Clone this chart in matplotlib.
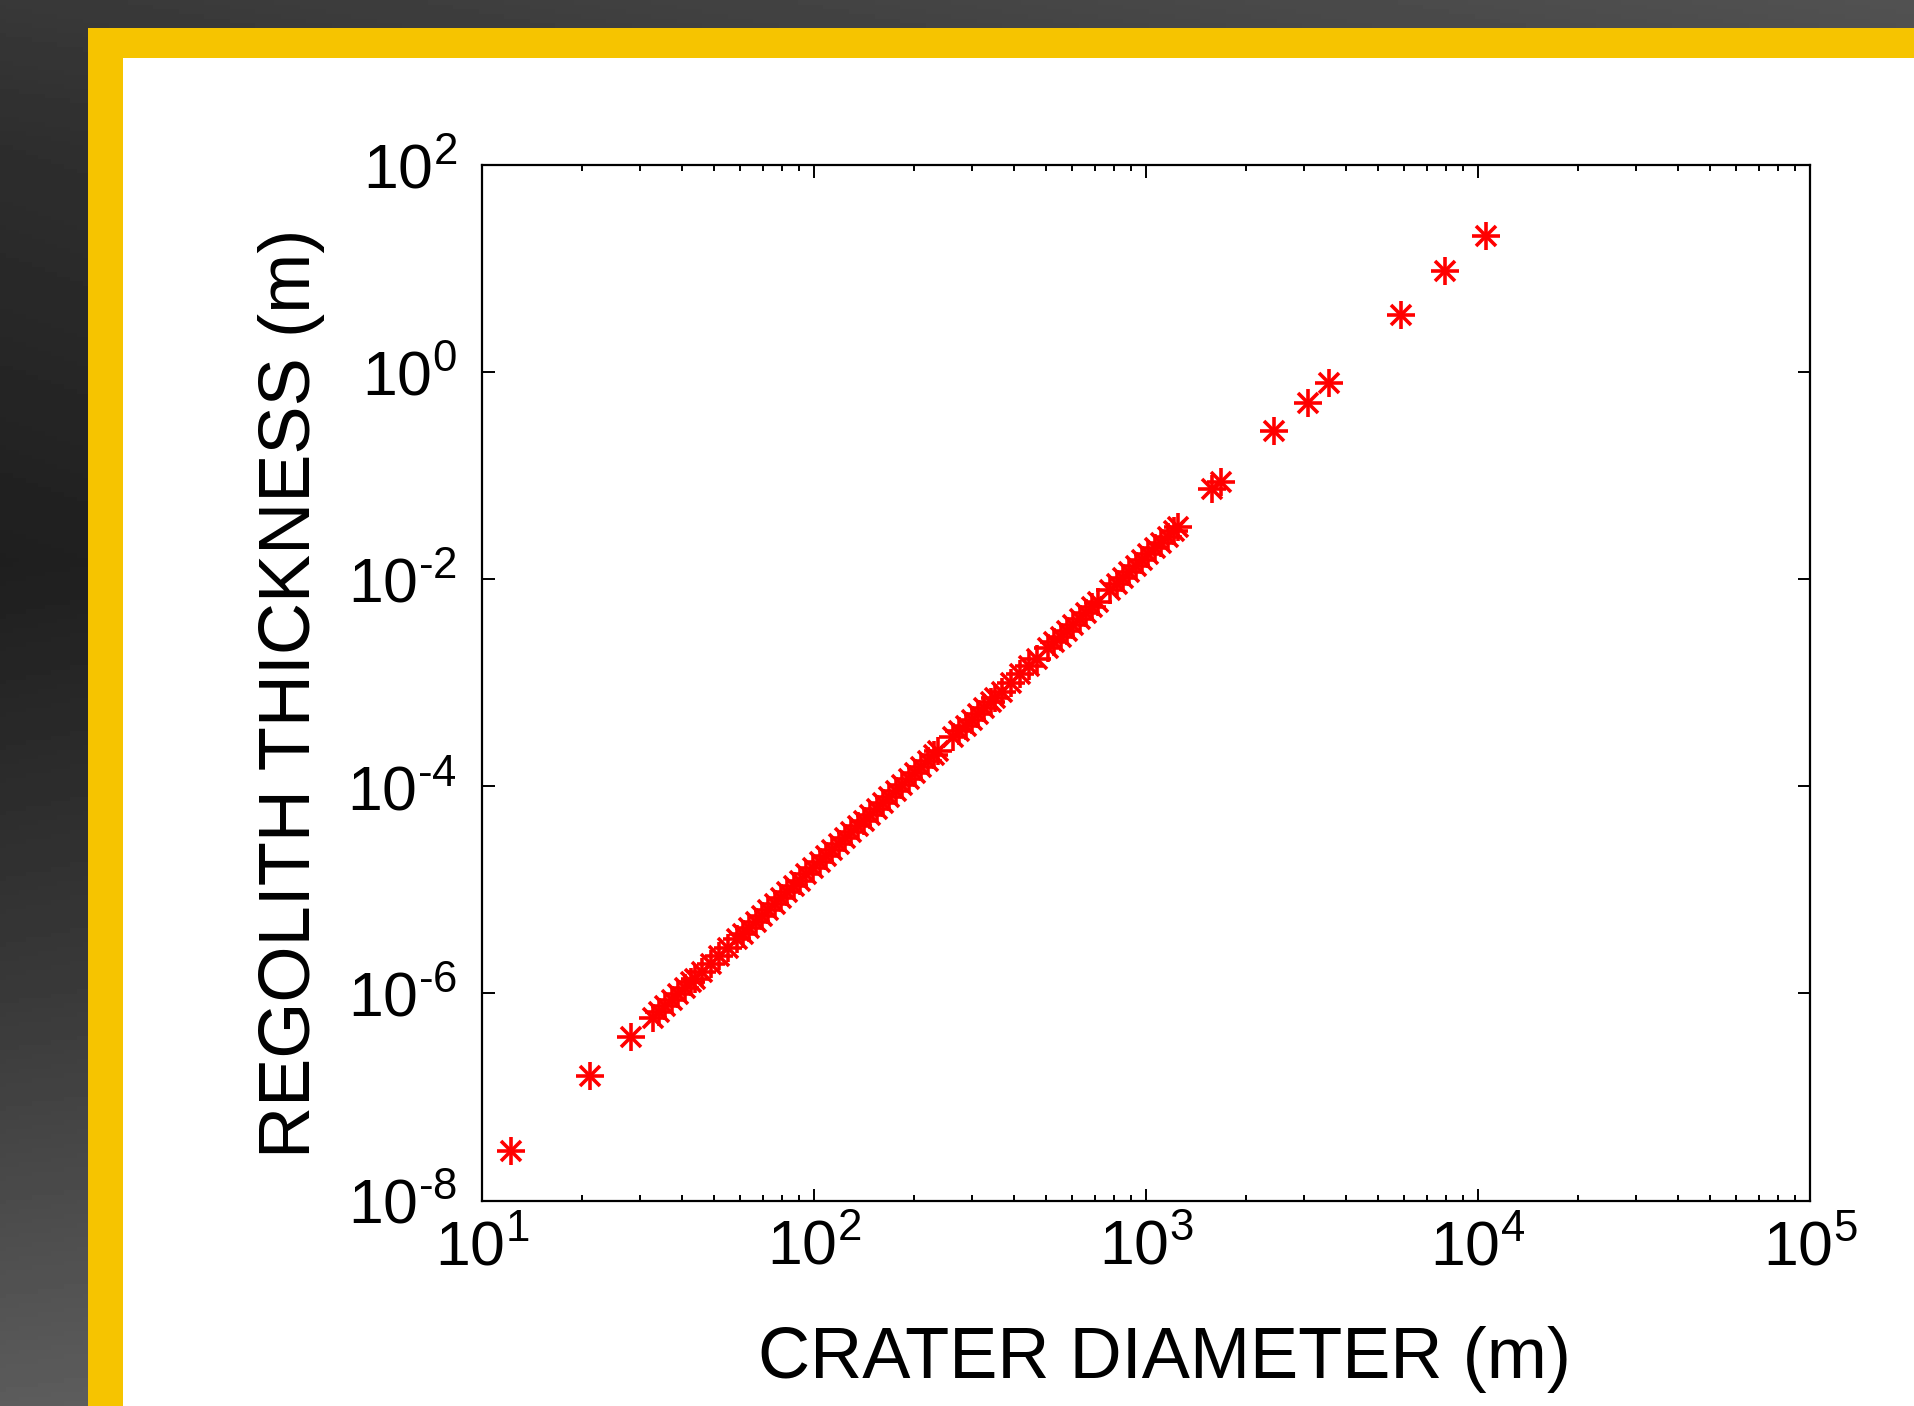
import numpy as np
import matplotlib
matplotlib.use('Agg')
import matplotlib.pyplot as plt
from matplotlib.patches import Rectangle
from matplotlib.ticker import FixedLocator, LogLocator, NullLocator, FuncFormatter

# crater diameter (m)
crater_diameter = [
    12.2, 21.1, 28.1,
    32.7, 34.2, 35.7, 37.3, 39.0, 40.8, 42.6, 43.8,
    46.0, 48.8, 51.9, 55.1, 58.6,
    61.1, 63.8, 66.7, 69.7, 72.8, 76.1, 79.5, 83.1, 86.8, 90.7, 94.8, 99.1, 104.2,
    108.7, 113.6, 118.7, 124, 129.6, 135.4, 141.5, 147.9, 154.5, 161.5, 168.8,
    176.4, 184.3, 192.6, 201.3, 210.3, 219.8, 229.7, 236,
    262, 274, 286, 299, 312, 326, 341, 351,
    368, 393, 418, 444, 470,
    507, 530, 553, 578, 604, 631, 660, 690, 717,
    779, 818,
    853, 891, 931, 973, 1017, 1063, 1111, 1161, 1213, 1248,
    1585, 1683, 2427, 3076, 3550, 5850, 7940, 10590,
]

# regolith thickness (m)
regolith_thickness = [
    3.0e-8, 1.6e-7, 3.8e-7,
    5.77e-7, 6.60e-7, 7.51e-7, 8.56e-7, 9.79e-7, 1.12e-6, 1.28e-6, 1.39e-6,
    1.61e-6, 1.92e-6, 2.31e-6, 2.76e-6, 3.32e-6,
    3.76e-6, 4.28e-6, 4.90e-6, 5.59e-6, 6.37e-6, 7.27e-6, 8.29e-6, 9.47e-6,
    1.08e-5, 1.23e-5, 1.41e-5, 1.61e-5, 1.87e-5,
    2.12e-5, 2.42e-5, 2.76e-5, 3.15e-5, 3.59e-5, 4.10e-5, 4.67e-5, 5.34e-5,
    6.09e-5, 6.95e-5, 7.94e-5, 9.06e-5, 1.03e-4, 1.18e-4, 1.35e-4, 1.53e-4,
    1.75e-4, 2.00e-4, 2.17e-4,
    2.97e-4, 3.39e-4, 3.86e-4, 4.41e-4, 5.01e-4, 5.72e-4, 6.54e-4, 7.14e-4,
    8.22e-4, 1.00e-3, 1.21e-3, 1.44e-3, 1.71e-3,
    2.15e-3, 2.46e-3, 2.79e-3, 3.19e-3, 3.64e-3, 4.15e-3, 4.74e-3, 5.42e-3, 6.08e-3,
    7.80e-3, 9.03e-3,
    1.02e-2, 1.17e-2, 1.33e-2, 1.52e-2, 1.74e-2, 1.98e-2, 2.26e-2, 2.58e-2, 2.94e-2, 3.21e-2,
    0.075, 0.086, 0.268, 0.50, 0.79, 3.55, 9.4, 20.7,
]

x_ticks = [1e1, 1e2, 1e3, 1e4, 1e5]
y_ticks = [1e-8, 1e-6, 1e-4, 1e-2, 1e0, 1e2]

plt.rcParams['font.family'] = ['Liberation Sans', 'DejaVu Sans']
plt.rcParams['mathtext.fontset'] = 'custom'
plt.rcParams['mathtext.rm'] = 'Liberation Sans'
plt.rcParams['mathtext.it'] = 'Liberation Sans:italic'
plt.rcParams['mathtext.bf'] = 'Liberation Sans:bold'
plt.rcParams['axes.unicode_minus'] = False


def pow10_label(v, pos):
    # matlab prints a short hyphen in the exponent
    e = int(round(np.log10(v)))
    if e < 0:
        return r'$\mathdefault{10^{\text{-}%d}}$' % (-e)
    return r'$\mathdefault{10^{%d}}$' % e


W, H = 1915, 1406
fig = plt.figure(figsize=(W / 100, H / 100), dpi=100)

# dark slide backdrop
bg = fig.add_axes([0, 0, 1, 1], zorder=0)
yy = np.linspace(0, 1, 300)[:, None]
xx = np.linspace(0, 1, 300)[None, :]
shade = np.interp(yy, [0, 0.1, 0.4, 0.7, 1], [0.22, 0.18, 0.12, 0.22, 0.36]) + 0.1 * xx
bg.imshow(shade, cmap='gray', vmin=0, vmax=1, aspect='auto',
          extent=[0, 1, 0, 1], origin='upper')
bg.axis('off')

# yellow frame and white panel
fig.add_artist(Rectangle((88 / W, 0), 1, (H - 28) / H, transform=fig.transFigure,
                         facecolor='#f6c400', edgecolor='none', zorder=1))
fig.add_artist(Rectangle((123 / W, 0), 1, (H - 58) / H, transform=fig.transFigure,
                         facecolor='white', edgecolor='none', zorder=1.5))

ax = fig.add_axes([482 / W, 1 - 1200.5 / H, 1328 / W, 1035.5 / H], zorder=3)
ax.set_facecolor('white')
ax.set_xscale('log')
ax.set_yscale('log')
ax.set_xlim(1e1, 1e5)
ax.set_ylim(1e-8, 1e2)

# matlab style '*' marker
ax.plot(crater_diameter, regolith_thickness, '+', color='red', ms=20, mew=2.6, ls='none')
ax.plot(crater_diameter, regolith_thickness, 'x', color='red', ms=14, mew=2.6, ls='none')

ax.xaxis.set_major_locator(FixedLocator(x_ticks))
ax.xaxis.set_minor_locator(LogLocator(base=10, subs=np.arange(2, 10), numticks=50))
ax.yaxis.set_major_locator(FixedLocator(y_ticks))
ax.yaxis.set_minor_locator(NullLocator())
ax.xaxis.set_major_formatter(FuncFormatter(pow10_label))
ax.yaxis.set_major_formatter(FuncFormatter(pow10_label))

ax.tick_params(which='both', direction='in', top=True, right=True, width=1.4, color='black')
ax.tick_params(which='major', length=9, labelsize=45)
ax.tick_params(which='minor', length=4.5)
ax.tick_params(axis='x', which='major', pad=13)
ax.tick_params(axis='y', which='major', pad=18)
for s in ax.spines.values():
    s.set_linewidth(1.6)

ax.set_xlabel('CRATER DIAMETER (m)', fontsize=52)
ax.xaxis.set_label_coords(0.514, -0.121)
ax.set_ylabel('REGOLITH THICKNESS (m)', fontsize=52)
ax.yaxis.set_label_coords(-0.118, 0.49)

fig.savefig('out.png', dpi=100)
